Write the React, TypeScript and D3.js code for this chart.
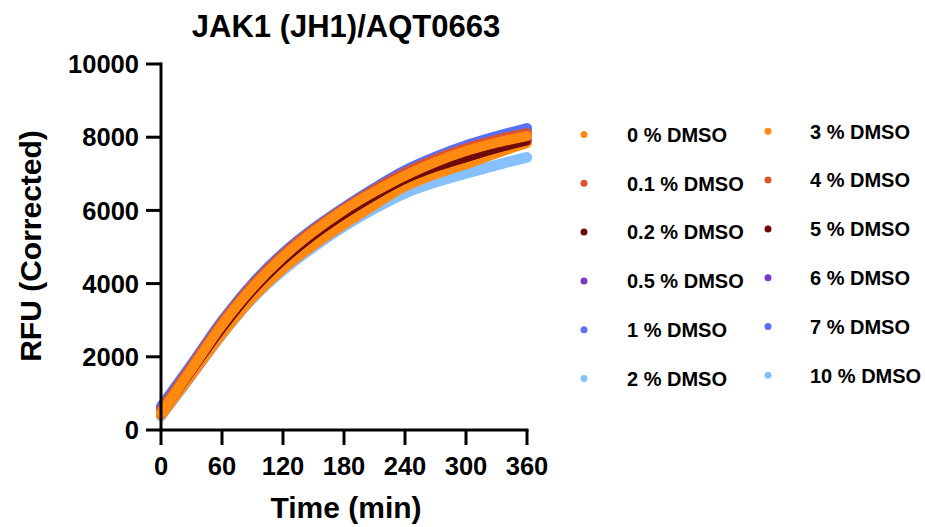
import React from 'react';
import * as d3 from 'd3';

const times = [0, 30, 60, 90, 120, 150, 180, 210, 240, 270, 300, 330, 360];

const dmso0 = [460, 1660, 2870, 3890, 4730, 5420, 6010, 6510, 6950, 7320, 7620, 7850, 8030];
const dmso01 = [540, 1730, 2930, 3950, 4790, 5470, 6050, 6570, 7030, 7400, 7700, 7930, 8110];
const dmso02 = [420, 1580, 2740, 3770, 4600, 5290, 5870, 6380, 6830, 7160, 7420, 7670, 7880];
const dmso05 = [440, 1600, 2780, 3800, 4640, 5330, 5910, 6420, 6870, 7200, 7460, 7700, 7910];
const dmso1 = [650, 1800, 2990, 4010, 4840, 5510, 6090, 6620, 7100, 7470, 7780, 8030, 8250];
const dmso2 = [380, 1490, 2620, 3600, 4370, 5010, 5570, 6060, 6480, 6780, 7020, 7250, 7460];
const dmso3 = [400, 1500, 2620, 3610, 4410, 5050, 5620, 6150, 6650, 6990, 7260, 7560, 7840];
const dmso4 = [500, 1700, 2900, 3920, 4760, 5440, 6020, 6540, 7000, 7370, 7680, 7910, 8090];
const dmso5 = [410, 1570, 2730, 3760, 4590, 5280, 5860, 6370, 6820, 7150, 7410, 7660, 7870];
const dmso6 = [430, 1590, 2770, 3790, 4630, 5320, 5900, 6410, 6860, 7190, 7450, 7690, 7900];
const dmso7 = [600, 1770, 2960, 3980, 4810, 5490, 6070, 6600, 7080, 7450, 7760, 8010, 8220];
const dmso10 = [370, 1480, 2600, 3580, 4350, 4990, 5550, 6040, 6460, 6760, 7000, 7230, 7440];

const labels = [
  '0 % DMSO', '0.1 % DMSO', '0.2 % DMSO', '0.5 % DMSO', '1 % DMSO', '2 % DMSO',
  '3 % DMSO', '4 % DMSO', '5 % DMSO', '6 % DMSO', '7 % DMSO', '10 % DMSO',
];
const values = [dmso0, dmso01, dmso02, dmso05, dmso1, dmso2, dmso3, dmso4, dmso5, dmso6, dmso7, dmso10];
const colors = [
  '#ff8a12', '#e0522b', '#6e0a0a', '#7b38c6', '#5a70f2', '#86c0ff',
  '#ff8a12', '#e0522b', '#6e0a0a', '#7b38c6', '#5a70f2', '#86c0ff',
];
// bottom to top, so the layering looks like the reference
const drawOrder = [11, 5, 9, 3, 10, 4, 7, 1, 6, 8, 2, 0];

const xTicks = [0, 60, 120, 180, 240, 300, 360];
const yTicks = [0, 2000, 4000, 6000, 8000, 10000];

const font = 'Arial, "Liberation Sans", sans-serif';

const App = () => {
  const x = d3.scaleLinear().domain([0, 360]).range([161, 527]);
  const y = d3.scaleLinear().domain([0, 10000]).range([430, 64]);

  const line = d3.line<number>()
    .x((d, i) => x(times[i]))
    .y(d => y(d))
    .curve(d3.curveCatmullRom.alpha(0.5));

  return (
    <svg width={925} height={527} style={{ position: 'absolute', left: 0, top: 0, background: '#fff' }}>
      <text x={346} y={37} textAnchor="middle" fontFamily={font} fontWeight="bold" fontSize={31}>
        JAK1 (JH1)/AQT0663
      </text>

      {drawOrder.map(i => (
        <path key={i} d={line(values[i]) || ''} fill="none" stroke={colors[i]}
          strokeWidth={i === 2 || i === 8 ? 7 : 10} strokeLinecap="round" strokeLinejoin="round" />
      ))}

      {/* y axis */}
      <line x1={161} x2={161} y1={y(10000) - 1.5} y2={y(0) + 1.5} stroke="#000" strokeWidth={3} />
      {yTicks.map(t => (
        <g key={t}>
          <line x1={146} x2={161} y1={y(t)} y2={y(t)} stroke="#000" strokeWidth={3} />
          <text x={139} y={y(t)} dy="0.36em" textAnchor="end" fontFamily={font} fontWeight="bold" fontSize={25.5}>
            {t}
          </text>
        </g>
      ))}

      {/* x axis */}
      <line x1={x(0) - 1.5} x2={x(360) + 1.5} y1={430} y2={430} stroke="#000" strokeWidth={3} />
      {xTicks.map(t => (
        <g key={t}>
          <line x1={x(t)} x2={x(t)} y1={430} y2={445} stroke="#000" strokeWidth={3} />
          <text x={x(t)} y={475} textAnchor="middle" fontFamily={font} fontWeight="bold" fontSize={25.5}>
            {t}
          </text>
        </g>
      ))}

      <text x={346} y={518} textAnchor="middle" fontFamily={font} fontWeight="bold" fontSize={30}>
        Time (min)
      </text>
      <text transform="translate(41,246) rotate(-90)" textAnchor="middle" fontFamily={font} fontWeight="bold" fontSize={30}>
        RFU (Corrected)
      </text>

      {labels.map((lab, i) => {
        const col = i < 6 ? 0 : 1;
        const row = i % 6;
        const cy = 134.5 + row * 48.8 - col * 3.2;
        const dotX = col === 0 ? 584 : 768;
        const textX = col === 0 ? 627 : 810;
        return (
          <g key={lab}>
            <circle cx={dotX} cy={cy} r={3.5} fill={colors[i]} />
            <text x={textX} y={cy} dy="0.36em" fontFamily={font} fontWeight="bold" fontSize={20}>
              {lab}
            </text>
          </g>
        );
      })}
    </svg>
  );
};

export default App;
